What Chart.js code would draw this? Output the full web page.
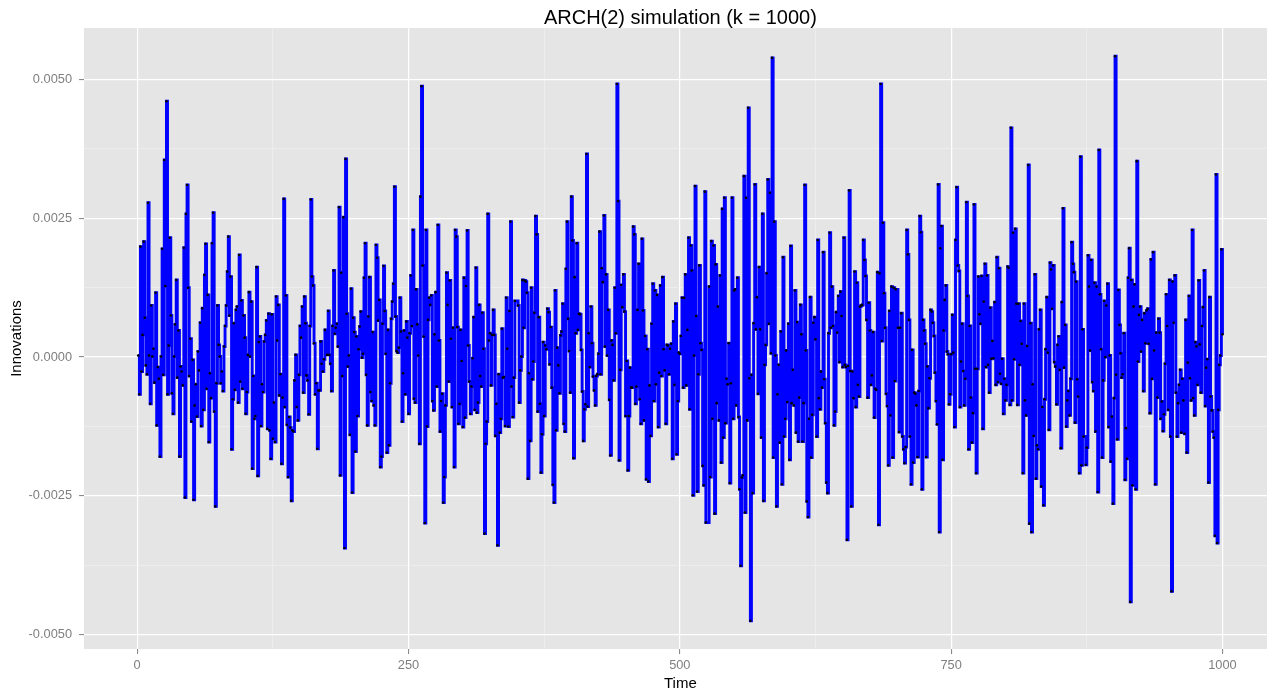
<!DOCTYPE html>
<html>
<head>
<meta charset="utf-8">
<title>ARCH(2) simulation</title>
<script src="https://cdn.jsdelivr.net/npm/chart.js@4.4.1/dist/chart.umd.min.js"></script>
<style>
    html, body { margin: 0; padding: 0; background: #ffffff; overflow: hidden; }
    #chartBox { width: 1278px; height: 693px; }
</style>
</head>
<body>
<div id="chartBox"><canvas id="archChart" width="1278" height="693"></canvas></div>
<script>
// Innovations, in units of 1e-3, one block per stretch of time
const blockStart = [1, 175, 351, 527, 701, 874];

const innov1 = [0.03,-0.67,1.99,-0.26,0.40,2.08,0.71,-0.15,-0.31,2.78,
    0.03,-0.84,0.93,0.01,0.15,-0.46,1.16,-1.23,-0.18,-0.39,
    -1.79,0.01,1.95,-0.32,3.55,1.28,4.61,-0.67,0.21,2.15,
    0.75,-0.65,-1.02,0.01,0.59,1.39,-0.37,0.48,-1.79,-0.17,
    -0.26,-0.51,1.97,-2.53,2.58,3.10,1.25,-0.34,0.33,-1.16,
    -0.05,-2.57,-0.87,-0.49,-1.07,0.10,-0.24,0.62,-1.24,0.88,
    -0.95,1.48,2.04,-0.57,1.12,-1.53,-0.29,-0.74,2.05,2.60,
    -0.98,-2.69,-0.47,0.93,0.22,0.01,-0.47,-0.26,-0.61,0.19,
    0.56,0.93,1.54,2.17,0.75,1.45,-1.66,-0.76,0.61,-0.59,
    0.85,0.91,-0.82,1.84,-0.44,1.02,-0.57,0.75,0.35,-1.02,
    -0.63,0.04,1.17,0.01,1.00,-2.01,-0.34,-1.11,-1.06,1.62,
    -2.14,0.27,0.37,-1.24,-0.49,-0.63,0.28,0.40,0.66,-1.29,
    0.78,-1.32,-1.83,0.77,-1.47,-0.82,-1.53,1.09,0.30,0.94,
    -0.69,-0.31,-1.92,-0.73,2.85,-0.90,1.11,-1.22,-2.16,-1.08,
    -1.27,-2.59,-1.32,-1.34,-0.42,0.04,-0.90,-1.14,-0.32,0.56,
    0.35,0.91,-0.64,1.09,0.61,-0.33,-0.42,-1.03,0.56,2.84,
    1.45,1.29,0.25,-0.67,-0.47,-1.65,-0.60,-0.60,0.28,-0.12,
    -0.26,-0.04,0.49];

const innov2 = [0.04,0.83,0.04,-0.12,-0.61,0.56,1.56,0.42,0.53,0.60,
    0.19,2.70,-2.13,1.52,-0.34,2.52,-3.44,3.57,0.78,-0.17,
    0.03,-1.40,1.23,-2.44,0.71,0.45,-1.70,0.37,-1.06,0.14,
    0.55,0.82,-0.01,0.06,1.43,2.05,-0.32,-1.23,0.73,1.44,
    -0.63,-0.79,0.45,-0.87,-1.23,2.02,1.79,0.66,1.03,-1.98,
    -1.79,0.60,1.64,0.83,0.06,-1.72,0.49,-1.59,-0.47,0.69,
    1.00,1.32,3.07,0.73,0.11,0.08,0.17,1.07,0.46,-1.16,
    -0.29,0.48,-0.67,0.64,0.35,-1.02,0.43,1.47,0.56,2.29,
    -0.75,-0.82,1.22,0.59,0.03,-1.56,2.89,4.88,1.65,0.37,
    -2.99,2.29,-1.25,0.67,1.07,0.94,1.11,-0.79,-0.96,0.41,
    1.17,-0.53,2.38,0.30,-1.34,-0.79,-0.66,-2.62,-2.16,-0.87,
    1.52,0.94,-0.44,1.38,0.33,-0.90,0.53,-1.98,2.29,2.17,
    0.54,-1.20,-0.84,0.49,-0.07,-1.26,1.43,-1.09,1.28,2.28,
    0.21,-0.44,-1.02,-0.53,-0.02,0.72,-0.95,1.61,-1.00,-0.82,
    0.94,-0.34,-0.53,0.80,0.15,-3.18,-1.56,-1.16,2.58,0.30,
    0.43,-0.51,0.40,0.85,0.40,-1.42,-0.84,-3.39,-0.31,-1.36,
    -1.11,0.51,-0.37,-0.36,-1.24,1.07,0.15,-1.25,0.83,2.44,
    -0.53,-1.08,-0.37,1.01];

const innov3 = [0.93,-0.82,-0.24,0.01,1.39,0.53,1.38,1.36,1.16,-2.19,
    -0.29,-1.51,1.25,-0.40,-0.08,0.80,2.54,2.21,-0.98,0.72,
    -0.84,-2.08,-1.39,0.27,-1.06,0.21,0.14,0.87,0.81,-0.13,
    0.54,-0.55,-2.30,-2.62,1.20,-1.32,0.17,-0.15,-0.65,0.39,
    0.46,0.96,-1.20,-1.34,1.59,2.44,0.69,0.11,-0.64,2.89,
    2.10,-1.82,1.44,0.43,2.05,0.49,0.78,0.77,0.13,-0.62,
    -1.51,-0.94,-0.85,3.66,-0.89,0.43,-0.18,0.91,0.25,-0.35,
    -0.60,-0.87,-0.34,-0.31,0.06,2.26,-0.31,1.60,1.35,2.55,
    0.19,1.49,0.03,0.85,-0.77,-1.77,0.30,0.22,-0.42,1.25,
    0.43,4.92,2.81,-1.86,-0.23,1.30,0.90,1.49,0.82,-1.06,
    -0.07,-2.04,-1.06,-0.19,-0.55,-0.55,2.35,2.21,-0.84,-0.53,
    0.85,1.68,-0.76,-1.20,2.13,0.84,-1.14,0.38,-2.20,0.14,
    -2.24,-0.51,-1.42,0.60,1.32,-0.79,1.20,-0.49,1.12,-1.26,
    -0.28,1.29,-0.34,1.44,0.14,-0.24,-1.20,0.22,0.21,-0.31,
    0.15,0.24,-1.83,0.64,-0.50,0.96,-1.75,-0.79,0.08,0.06,
    0.38,1.07,-0.55,1.07,1.49,-0.51,0.49,2.15,-0.94,2.01,
    1.56,-2.49,0.03,3.08,0.74,-2.42,-0.31,1.65,0.25,0.13,
    -1.96,-2.31,2.98,-2.98];

const innov4 = [1.27,-2.16,2.09,-1.11,2.01,-2.82,1.67,-0.83,0.91,-1.14,
    1.47,-1.90,2.67,-1.45,2.87,-1.19,-0.39,-0.49,0.25,-2.27,
    -0.47,2.87,-1.11,1.20,1.22,-0.87,1.43,-1.08,-2.38,-3.76,
    -2.17,-2.13,3.26,-2.80,2.87,-1.14,4.49,-0.38,-4.75,-0.32,
    -2.45,0.61,3.11,0.50,1.08,-0.66,1.62,0.50,-1.45,2.58,
    -2.59,-0.14,0.22,1.51,3.20,0.60,2.96,0.07,5.39,-1.81,
    2.44,0.03,-2.69,-0.67,-0.14,-1.54,0.46,-2.29,1.80,-1.43,
    -1.11,0.12,-0.81,0.60,-1.85,2.00,-0.83,-0.23,-0.87,1.20,
    -1.36,0.63,-1.52,-0.73,0.94,0.41,-1.52,-0.83,3.10,0.12,
    -2.60,-2.88,-1.11,1.08,-1.81,-1.04,0.62,0.72,0.32,-1.43,
    2.11,-0.74,-0.94,-0.26,-0.55,1.89,-0.40,-1.19,-2.26,-2.45,
    0.43,2.24,0.53,1.27,0.56,-1.23,-0.98,0.81,0.44,1.10,
    -0.09,1.18,0.74,-0.18,2.15,-0.14,-0.18,-3.29,-0.16,3.00,
    -0.25,-2.69,-0.26,-0.74,1.54,-0.90,1.34,-0.50,-0.71,0.91,
    0.93,0.94,2.11,1.75,1.46,0.67,-0.73,0.98,0.48,-0.50,
    -0.33,0.45,-1.09,-0.57,-0.59,1.53,-3.02,1.51,4.92,0.29,
    2.42,1.15,0.53,-0.66,-0.88,-1.95,0.83,-1.05,1.27,-1.81,
    1.25,-0.43,1.22];

const innov5 = [0.53,-1.35,0.53,0.79,-1.43,-1.66,-1.91,-1.62,2.29,1.85,
    0.67,-1.43,-2.29,0.13,-1.90,-0.64,-0.66,-0.87,-1.80,-0.61,
    2.54,2.25,-2.38,0.67,0.48,0.24,-1.80,-0.17,-0.92,-0.38,
    0.85,0.82,0.62,0.38,-0.28,-0.79,-1.21,3.11,-3.15,1.96,
    2.36,-1.85,0.48,1.03,1.29,0.10,0.05,-0.85,-0.67,0.05,
    0.76,0.08,-1.26,2.11,3.06,1.65,1.55,-0.90,-0.08,0.60,
    -0.25,-0.87,-0.39,2.79,1.10,-1.66,0.56,-0.73,-1.54,-1.01,
    2.75,-0.21,-2.09,-0.21,1.45,0.77,0.60,1.46,-1.29,1.00,
    1.68,-0.18,1.47,-0.14,-0.64,0.89,-0.03,0.29,-0.02,0.99,
    -0.50,1.80,-0.45,1.60,-0.30,-0.48,-0.03,-1.02,-0.39,-0.78,
    -0.50,1.63,1.61,-0.86,4.13,-0.78,2.24,-0.04,2.31,0.96,
    -0.86,0.96,-0.14,0.65,0.24,-2.09,0.96,-0.78,-1.05,0.20,
    3.46,-3.00,0.61,-3.15,-0.49,-1.42,1.49,-2.19,-1.59,-1.66,
    0.50,0.85,-2.33,-0.90,-2.67,-0.76,0.14,1.08,0.08,-1.31,
    1.70,1.58,0.87,1.65,-0.09,-0.17,-0.85,0.22,0.37,-0.23,
    -1.64,0.99,2.68,-0.19,0.58,-1.25,-0.78,-0.61,-1.05,-0.39,
    2.07,1.68,1.53,-1.18,1.36,-0.40,-0.71,-2.09,3.61,-1.95,
    0.50,-1.43];

const innov6 = [-1.94,-1.63,1.83,1.27,0.12,1.75,-0.45,-0.61,1.34,-1.34,
    1.27,-2.43,3.73,1.13,0.14,-1.81,-0.42,1.01,0.00,0.93,
    1.32,-1.26,0.03,-1.88,-1.07,-2.64,-0.74,5.42,-0.32,-1.48,
    1.21,0.58,0.07,-0.37,-0.31,0.43,-2.21,-1.28,-1.83,1.43,
    1.96,-4.41,1.39,-2.31,0.91,1.31,-2.38,3.53,-0.08,0.76,
    0.91,0.10,0.67,-0.61,0.79,0.25,0.84,0.87,0.24,-1.01,
    1.76,-0.39,1.89,0.12,-2.29,0.44,-0.73,0.69,0.44,-1.11,
    -0.80,-1.33,-1.03,-0.12,1.13,0.56,-0.95,1.39,-1.43,-4.22,
    1.36,0.62,1.47,-0.64,-1.43,-0.83,-0.50,-0.23,-1.36,-0.39,
    -0.78,-1.38,0.67,-1.72,-0.10,1.10,-0.38,-0.78,2.29,-0.74,
    -1.05,0.27,0.19,-0.50,1.38,0.23,-0.64,0.56,0.90,1.56,
    -0.88,-0.19,-0.04,-2.26,1.08,-0.71,-0.96,-1.34,-1.45,-3.22,
    3.29,-3.35,-0.95,-0.14,0.03,1.94,0.41];

// axis breaks
const xMajor = [0, 250, 500, 750, 1000];
const xMinor = [125, 375, 625, 875];
const yMajor = [-0.005, -0.0025, 0, 0.0025, 0.005];
const yMinor = [-0.00375, -0.00125, 0.00125, 0.00375];

document.addEventListener("DOMContentLoaded", function () {
    const blocks = [innov1, innov2, innov3, innov4, innov5, innov6];
    const points = [];
    blocks.forEach((vals, b) => {
        vals.forEach((v, i) => {
            points.push({ x: blockStart[b] + i, y: v / 1000 });
        });
    });

    // ggplot style 5% expansion of the data range
    const xs = points.map(p => p.x);
    const ys = points.map(p => p.y);
    const xLo = Math.min(...xs), xHi = Math.max(...xs);
    const yLo = Math.min(...ys), yHi = Math.max(...ys);
    const xPad = (xHi - xLo) * 0.05;
    const yPad = (yHi - yLo) * 0.05;

    const fontFamily = '"Liberation Sans", Arial, Helvetica, sans-serif';
    const tickGrey = "#7F7F7F";

    const makeBreaks = (major, minor) =>
        major.map(v => ({ value: v, isMajor: true }))
            .concat(minor.map(v => ({ value: v, isMajor: false })))
            .sort((a, b) => a.value - b.value);

    const isMajor = ctx => ctx.tick && ctx.tick.isMajor;

    const gridOpts = {
        color: ctx => isMajor(ctx) ? "#FFFFFF" : "#F2F2F2",
        lineWidth: ctx => isMajor(ctx) ? 1.2 : 0.6,
        tickColor: ctx => isMajor(ctx) ? tickGrey : "rgba(0,0,0,0)",
        tickLength: 5,
        tickWidth: 1
    };

    // grey panel behind the grid
    const panelBackground = {
        id: "panelBackground",
        beforeDraw(chart) {
            const { ctx, chartArea } = chart;
            ctx.save();
            ctx.fillStyle = "#E5E5E5";
            ctx.fillRect(chartArea.left, chartArea.top,
                chartArea.right - chartArea.left, chartArea.bottom - chartArea.top);
            ctx.restore();
        }
    };

    const ctx = document.getElementById("archChart").getContext("2d");
    new Chart(ctx, {
        type: "line",
        data: {
            datasets: [{
                label: "Innovations",
                data: points,
                stepped: "before",
                borderColor: "#0000FF",
                borderWidth: 2.9,
                fill: false,
                pointRadius: 1.3,
                pointBackgroundColor: "#000000",
                pointBorderWidth: 0,
                pointHoverRadius: 1.3
            }]
        },
        options: {
            responsive: false,
            animation: false,
            events: [],
            layout: { padding: { left: 0, right: 0, top: 0, bottom: 0 } },
            plugins: {
                legend: { display: false },
                tooltip: { enabled: false },
                title: {
                    display: true,
                    fullSize: false,
                    text: "ARCH(2) simulation (k = 1000)",
                    color: "#000000",
                    font: { family: fontFamily, size: 20, weight: "normal", lineHeight: 1 },
                    padding: { top: 8, bottom: 0 }
                }
            },
            scales: {
                x: {
                    type: "linear",
                    position: "bottom",
                    min: xLo - xPad,
                    max: xHi + xPad,
                    afterBuildTicks: s => { s.ticks = makeBreaks(xMajor, xMinor); },
                    afterFit: s => { s.height = 44; },
                    grid: gridOpts,
                    border: { display: false },
                    ticks: {
                        autoSkip: false,
                        maxRotation: 0,
                        padding: 4,
                        color: tickGrey,
                        font: { family: fontFamily, size: 12.8 },
                        callback: (v, i, ticks) => ticks[i].isMajor ? String(v) : ""
                    },
                    title: {
                        display: true,
                        text: "Time",
                        color: "#000000",
                        font: { family: fontFamily, size: 15 },
                        padding: { top: 0, bottom: 0 }
                    }
                },
                y: {
                    min: yLo - yPad,
                    max: yHi + yPad,
                    afterBuildTicks: s => { s.ticks = makeBreaks(yMajor, yMinor); },
                    afterFit: s => { s.width = 84; },
                    grid: gridOpts,
                    border: { display: false },
                    ticks: {
                        autoSkip: false,
                        padding: 7,
                        color: tickGrey,
                        font: { family: fontFamily, size: 12.8 },
                        callback: (v, i, ticks) => ticks[i].isMajor ? Number(v).toFixed(4) : ""
                    },
                    title: {
                        display: true,
                        text: "Innovations",
                        color: "#000000",
                        font: { family: fontFamily, size: 15 },
                        padding: { top: 8, bottom: 0 }
                    }
                }
            }
        },
        plugins: [panelBackground]
    });
});
</script>
</body>
</html>
